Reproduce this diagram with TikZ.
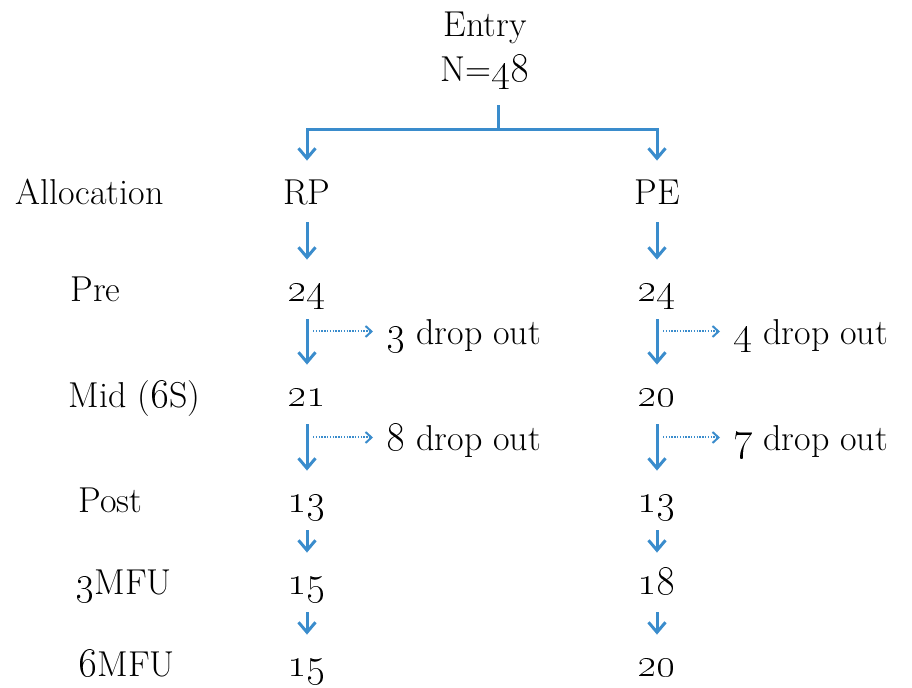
\documentclass[tikz,border=0pt]{standalone}
\usepackage{tikz}
\usetikzlibrary{arrows.meta}
\definecolor{flowblue}{RGB}{58,140,204}
\newcommand{\figs}[1]{{\fontsize{21}{24}\selectfont\oldstylenums{#1}}}

\begin{document}
\begin{tikzpicture}[x=0.5pt, y=-0.5pt,
        txt/.style={inner sep=0pt, text height=12.5pt, text depth=3.5pt, font=\fontsize{18}{21}\selectfont},
        flow/.style={flowblue, line width=1.5pt, -{Straight Barb[length=5pt,width=8.5pt,line width=1.5pt]}, shorten <=5pt, shorten >=8.5pt},
        drop/.style={flowblue, line width=1pt, dash pattern=on 0.7pt off 0.7pt, -{Straight Barb[length=3pt,width=5.5pt,line width=1pt]}, shorten <=3pt, shorten >=6.5pt, transform canvas={yshift=2.25pt}}]
        \useasboundingbox (0,0) rectangle (912,688);

        % Entry and the split into the two arms
        \node[txt, anchor=base] (entry) at (485,37) {Entry};
        \node[txt, anchor=base] (total) at (485,82) {N=\figs{48}};
        \coordinate (split) at (498,130);
        \draw[flowblue, line width=1.5pt, shorten <=8pt] (total.south -| split) -- (split);

        % Row labels
        \node[txt, anchor=base west] (alloc) at (15,205) {Allocation};
        \node[txt, anchor=base west] (pre) at (70,302) {Pre};
        \node[txt, anchor=base west] (mid) at (68,408) {Mid (\figs{6}S)};
        \node[txt, anchor=base west] (post) at (78,513) {Post};
        \node[txt, anchor=base west] (three) at (75,595) {\figs{3}MFU};
        \node[txt, anchor=base west] (six) at (78,677) {\figs{6}MFU};

        % RP arm
        \node[txt, anchor=base] (rp) at (307,205) {RP};
        \node[txt, anchor=base] (rpPre) at (307,302) {\figs{24}};
        \node[txt, anchor=base] (rpMid) at (307,407) {\figs{21}};
        \node[txt, anchor=base] (rpPost) at (307,513) {\figs{13}};
        \node[txt, anchor=base] (rpThree) at (307,595) {\figs{15}};
        \node[txt, anchor=base] (rpSix) at (307,677) {\figs{15}};
        \node[txt, anchor=base west] (rpDropA) at (386,345) {\figs{3} drop out};
        \node[txt, anchor=base west] (rpDropB) at (386,451) {\figs{8} drop out};

        % PE arm
        \node[txt, anchor=base] (pe) at (657,205) {PE};
        \node[txt, anchor=base] (pePre) at (657,302) {\figs{24}};
        \node[txt, anchor=base] (peMid) at (657,407) {\figs{20}};
        \node[txt, anchor=base] (pePost) at (657,513) {\figs{13}};
        \node[txt, anchor=base] (peThree) at (657,595) {\figs{18}};
        \node[txt, anchor=base] (peSix) at (657,677) {\figs{20}};
        \node[txt, anchor=base west] (peDropA) at (733,345) {\figs{4} drop out};
        \node[txt, anchor=base west] (peDropB) at (733,451) {\figs{7} drop out};

        % Arrows down each arm
        \draw[flow, shorten <=0pt, shorten >=9.5pt] (split) -| (rp);
        \draw[flow, shorten <=0pt, shorten >=9.5pt] (split) -| (pe);
        \foreach \arm in {rp, pe} {
            \draw[flow] (\arm) -- (\arm Pre);
            \draw[flow] (\arm Pre) -- (\arm Mid);
            \draw[flow] (\arm Mid) -- (\arm Post);
            \draw[flow] (\arm Post) -- (\arm Three);
            \draw[flow] (\arm Three) -- (\arm Six);
            % Drop outs
            \draw[drop] (\arm DropA.west -| \arm Pre) -- (\arm DropA.west);
            \draw[drop] (\arm DropB.west -| \arm Mid) -- (\arm DropB.west);
        }
    \end{tikzpicture}
\end{document}
